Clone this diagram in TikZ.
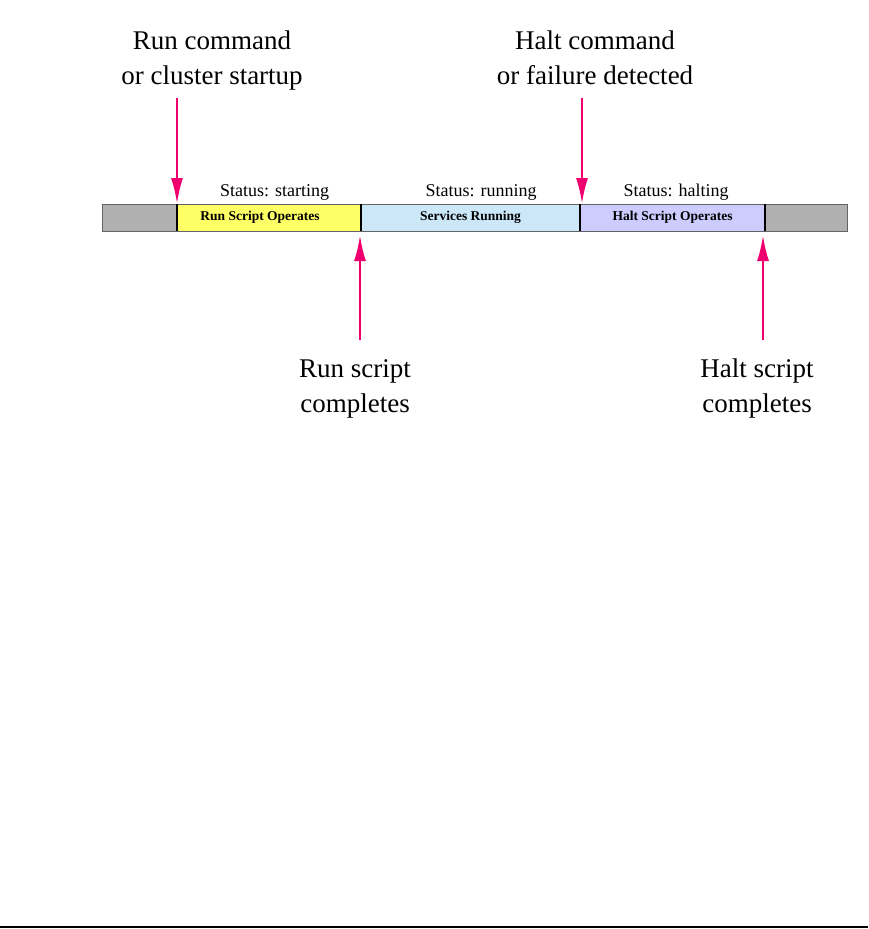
\documentclass[tikz,border=0pt]{standalone}
\usepackage{fontspec}
\setmainfont{Liberation Serif}
\usetikzlibrary{arrows.meta}
\definecolor{arrowpink}{RGB}{240,0,110}
\definecolor{grayseg}{RGB}{176,176,176}
\definecolor{yellowseg}{RGB}{255,255,102}
\definecolor{blueseg}{RGB}{204,232,248}
\definecolor{lavseg}{RGB}{204,204,255}
\definecolor{edgegray}{RGB}{100,100,100}
\begin{document}
\begin{tikzpicture}[x=1pt,y=-1pt,
  seg/.style={draw=edgegray, line width=0.9pt, minimum height=27pt, inner sep=0pt, outer sep=0pt,
    anchor=north west, font=\fontsize{13.5}{16}\selectfont\bfseries},
  divider/.style={draw=black, line width=1.6pt},
  evt/.style={draw=arrowpink, line width=2.5pt, -{Latex[length=26pt,width=12pt]}},
  biglabel/.style={align=center, inner sep=0pt, anchor=base, font=\fontsize{27}{35}\selectfont},
  status/.style={inner sep=0pt, anchor=base, font=\fontsize{18}{22}\selectfont}
]
\useasboundingbox (0,0) rectangle (868,929);
% bar segments
\node[seg, fill=grayseg, minimum width=75pt] (s1) at (102,204) {};
\node[seg, fill=yellowseg, minimum width=184pt] (s2) at (177,204) {Run Script Operates\hspace*{18pt}};
\node[seg, fill=blueseg, minimum width=219pt] (s3) at (361,204) {Services Running};
\node[seg, fill=lavseg, minimum width=185pt] (s4) at (580,204) {Halt Script Operates};
\node[seg, fill=grayseg, minimum width=82pt] (s5) at (765,204) {};
\draw[divider] (s2.north west) -- (s2.south west);
\draw[divider] (s3.north west) -- (s3.south west);
\draw[divider] (s4.north west) -- (s4.south west);
\draw[divider] (s5.north west) -- (s5.south west);
% status labels
\node[status] (st1) at (274.5,196) {Status: starting};
\node[status] (st2) at (481,196) {Status: running};
\node[status] (st3) at (676,196) {Status: halting};
% event labels (base anchor = last line baseline)
\node[biglabel] (t1) at (212,84) {Run command\\or cluster startup};
\node[biglabel] (t2) at (595,84) {Halt command\\or failure detected};
\node[biglabel] (b1) at (355,412) {Run script\\completes};
\node[biglabel] (b2) at (757,412) {Halt script\\completes};
% arrows
\coordinate (a1) at (177,98);
\coordinate (a2) at (360,340);
\coordinate (a3) at (582,98);
\coordinate (a4) at (763,340);
\draw[evt] (a1) -- (s2.north west);
\draw[evt] (a2) -- ([xshift=-1pt,yshift=-4pt]s3.south west);
\draw[evt] (a3) -- ([xshift=2pt]s4.north west);
\draw[evt] (a4) -- ([xshift=-2pt,yshift=-4pt]s5.south west);
% bottom rule
\coordinate (r1) at (0,927);
\coordinate (r2) at (868,927);
\draw[line width=2pt] (r1) -- (r2);
\end{tikzpicture}
\end{document}
